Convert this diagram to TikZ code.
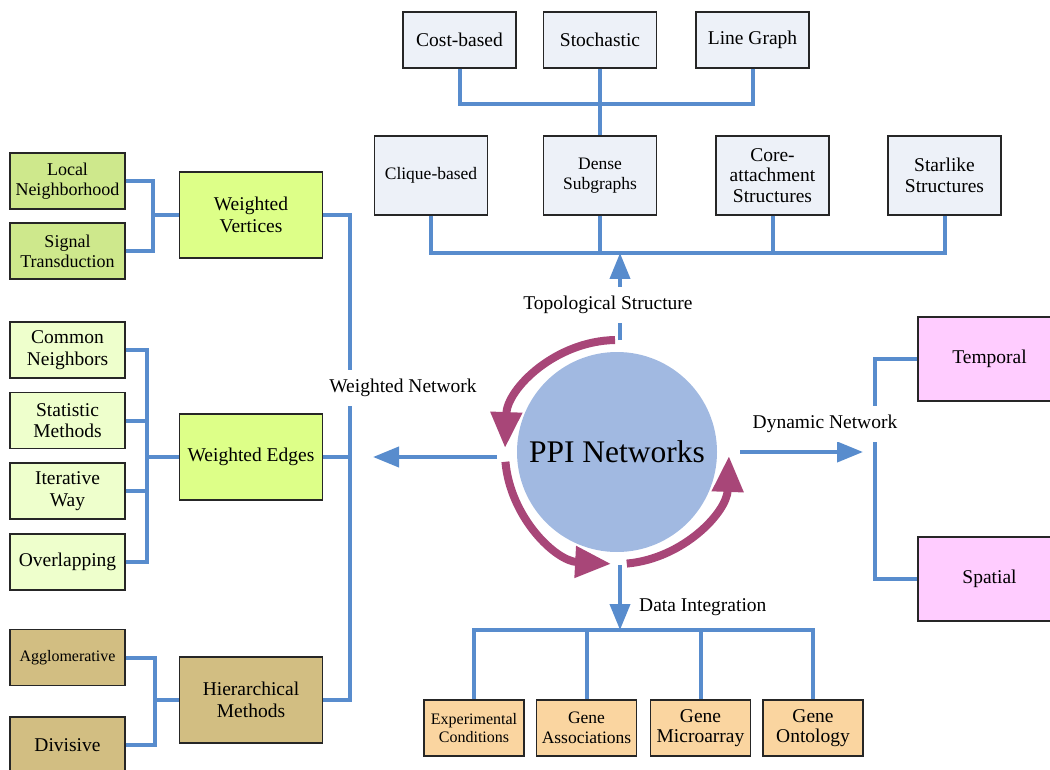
\documentclass[tikz,border=0pt]{standalone}
\usepackage{fontspec}
\setmainfont{Liberation Serif}
\usetikzlibrary{arrows.meta}

\definecolor{connblue}{RGB}{88,140,205}
\definecolor{turnpurple}{RGB}{168,70,120}
\definecolor{ppifill}{RGB}{161,185,225}
\definecolor{topofill}{RGB}{237,241,248}
\definecolor{vertleaf}{RGB}{206,232,140}
\definecolor{vertfill}{RGB}{221,255,136}
\definecolor{edgeleaf}{RGB}{238,255,204}
\definecolor{hierfill}{RGB}{210,190,130}
\definecolor{datafill}{RGB}{250,213,160}
\definecolor{dynfill}{RGB}{255,204,255}

\newcommand{\fsz}[2]{\fontsize{#1}{#2}\selectfont}

\begin{document}
\begin{tikzpicture}[x=1pt, y=-1pt,
    box/.style={draw=black!85, line width=1.2pt, align=center, inner sep=2pt, font=\fsz{19.5}{21.5}},
    topbox/.style={box, fill=topofill, minimum width=113pt, minimum height=56pt},
    subbox/.style={box, fill=topofill, minimum width=113pt, minimum height=79pt},
    leafbox/.style={box, minimum width=115pt, minimum height=56pt},
    midbox/.style={box, minimum width=143pt, minimum height=86pt},
    databox/.style={box, fill=datafill, minimum width=100pt, minimum height=56pt},
    dynbox/.style={box, fill=dynfill, minimum width=143pt, minimum height=84pt},
    conn/.style={connblue, line width=4pt},
    flow/.style={conn, -{Triangle[length=26pt,width=20pt]}},
    turn/.style={turnpurple, line width=8pt, -{Triangle[length=36pt,width=30pt]}},
    flowlabel/.style={fill=white, inner xsep=2pt, inner ysep=9pt, font=\fsz{19.5}{21.5}}]

    \useasboundingbox (0,0) rectangle (1050,770);
    \clip (0,0) rectangle (1050,770);

    % topological structure
    \node[topbox] (cost) at (459.5,40) {Cost-based};
    \node[topbox] (stoch) at (600,40) {Stochastic};
    \node[topbox] (linegraph) at (752.5,40) {Line Graph};
    \node[subbox, font=\fsz{17.5}{19}] (clique) at (431,175.5) {Clique-based};
    \node[subbox, font=\fsz{17.5}{20}] (dense) at (600,175.5) {Dense\\Subgraphs};
    \node[subbox, font=\fsz{19.5}{20.5}] (core) at (772.5,175.5) {Core-\\attachment\\Structures};
    \node[subbox] (star) at (944.5,175.5) {Starlike\\Structures};

    \draw[conn] (cost.south) -- ++(0,35) -| (dense.north);
    \draw[conn] (linegraph.south) -- ++(0,35) -| (dense.north);
    \draw[conn] (stoch.south) -- (dense.north);

    \coordinate (topjoin) at (620,253);
    \foreach \b in {clique,dense,core,star}
        \draw[conn] (\b.south) |- (topjoin);

    % weighted network
    \node[leafbox, fill=vertleaf, font=\fsz{18}{20}] (local) at (67.5,181) {Local\\Neighborhood};
    \node[leafbox, fill=vertleaf, font=\fsz{18}{20}] (signal) at (67.5,251) {Signal\\Transduction};
    \node[midbox, fill=vertfill] (wv) at (251,215) {Weighted\\Vertices};

    \node[leafbox, fill=edgeleaf] (common) at (67.5,350) {Common\\Neighbors};
    \node[leafbox, fill=edgeleaf] (stat) at (67.5,420.5) {Statistic\\Methods};
    \node[leafbox, fill=edgeleaf] (iter) at (67.5,491) {Iterative\\Way};
    \node[leafbox, fill=edgeleaf] (overlap) at (67.5,562) {Overlapping};
    \node[midbox, fill=vertfill] (we) at (251,457) {Weighted Edges};

    \node[leafbox, fill=hierfill, font=\fsz{16}{18}] (agglo) at (67.5,657.5) {Agglomerative};
    \node[leafbox, fill=hierfill] (divisive) at (67.5,745) {Divisive};
    \node[midbox, fill=hierfill] (hm) at (251,700) {Hierarchical\\Methods};

    \foreach \b in {local,signal}
        \draw[conn] (\b.east) -- ++(27,0) |- (wv.west);
    \foreach \b in {common,stat,iter,overlap}
        \draw[conn] (\b.east) -- ++(21,0) |- (we.west);
    \foreach \b in {agglo,divisive}
        \draw[conn] (\b.east) -- ++(29,0) |- (hm.west);

    \draw[conn] (wv.east) -- ++(26.5,0) |- (hm.east);
    \draw[conn] (we.east) -- ++(26.5,0);

    % dynamic network
    \node[dynbox] (temporal) at (989.5,359) {Temporal};
    \node[dynbox] (spatial) at (989.5,579) {Spatial};
    \draw[conn] (temporal.west) -- ++(-42,0) |- (spatial.west);

    % data integration
    \node[databox, font=\fsz{16}{18}] (exper) at (474,728) {Experimental\\Conditions};
    \node[databox, font=\fsz{17.5}{19.5}] (assoc) at (586.5,728) {Gene\\Associations};
    \node[databox, font=\fsz{19.5}{20.5}] (micro) at (700.5,728) {Gene\\Microarray};
    \node[databox, font=\fsz{19.5}{20.5}] (onto) at (813,728) {Gene\\Ontology};

    \coordinate (datajoin) at (620,630);
    \foreach \b in {exper,assoc,micro,onto}
        \draw[conn] (\b.north) |- (datajoin);

    % centre and the four arrows
    \node[circle, fill=ppifill, minimum size=200pt, inner sep=0pt, font=\fsz{31.5}{34}] (ppi) at (617,452) {PPI Networks};

    \coordinate (topstart) at (620,340);
    \coordinate (leftstart) at (497,457);
    \coordinate (lefttip) at (373,457);
    \coordinate (rightstart) at (740,452);
    \coordinate (righttip) at (863,452);
    \coordinate (botstart) at (620,565);

    \draw[flow] (topstart) -- (topjoin);
    \draw[flow] (leftstart) -- (lefttip);
    \draw[flow] (rightstart) -- (righttip);
    \draw[flow] (botstart) -- (datajoin);

    \draw[turn] ([shift={(269:112)}]ppi.center) arc[start angle=269, end angle=182, radius=112];
    \draw[turn] ([shift={(175:112)}]ppi.center) arc[start angle=175, end angle=93, radius=112];
    \draw[turn] ([shift={(85:112)}]ppi.center) arc[start angle=85, end angle=2, radius=112];

    \node[flowlabel] (topolabel) at (608,305) {Topological Structure};
    \node[flowlabel] (wnlabel) at (403,388) {Weighted Network};
    \node[flowlabel] (dnlabel) at (825,424) {Dynamic Network};
    \node[flowlabel, fill=none, anchor=west] (dilabel) at (637,607) {Data Integration};

\end{tikzpicture}
\end{document}
